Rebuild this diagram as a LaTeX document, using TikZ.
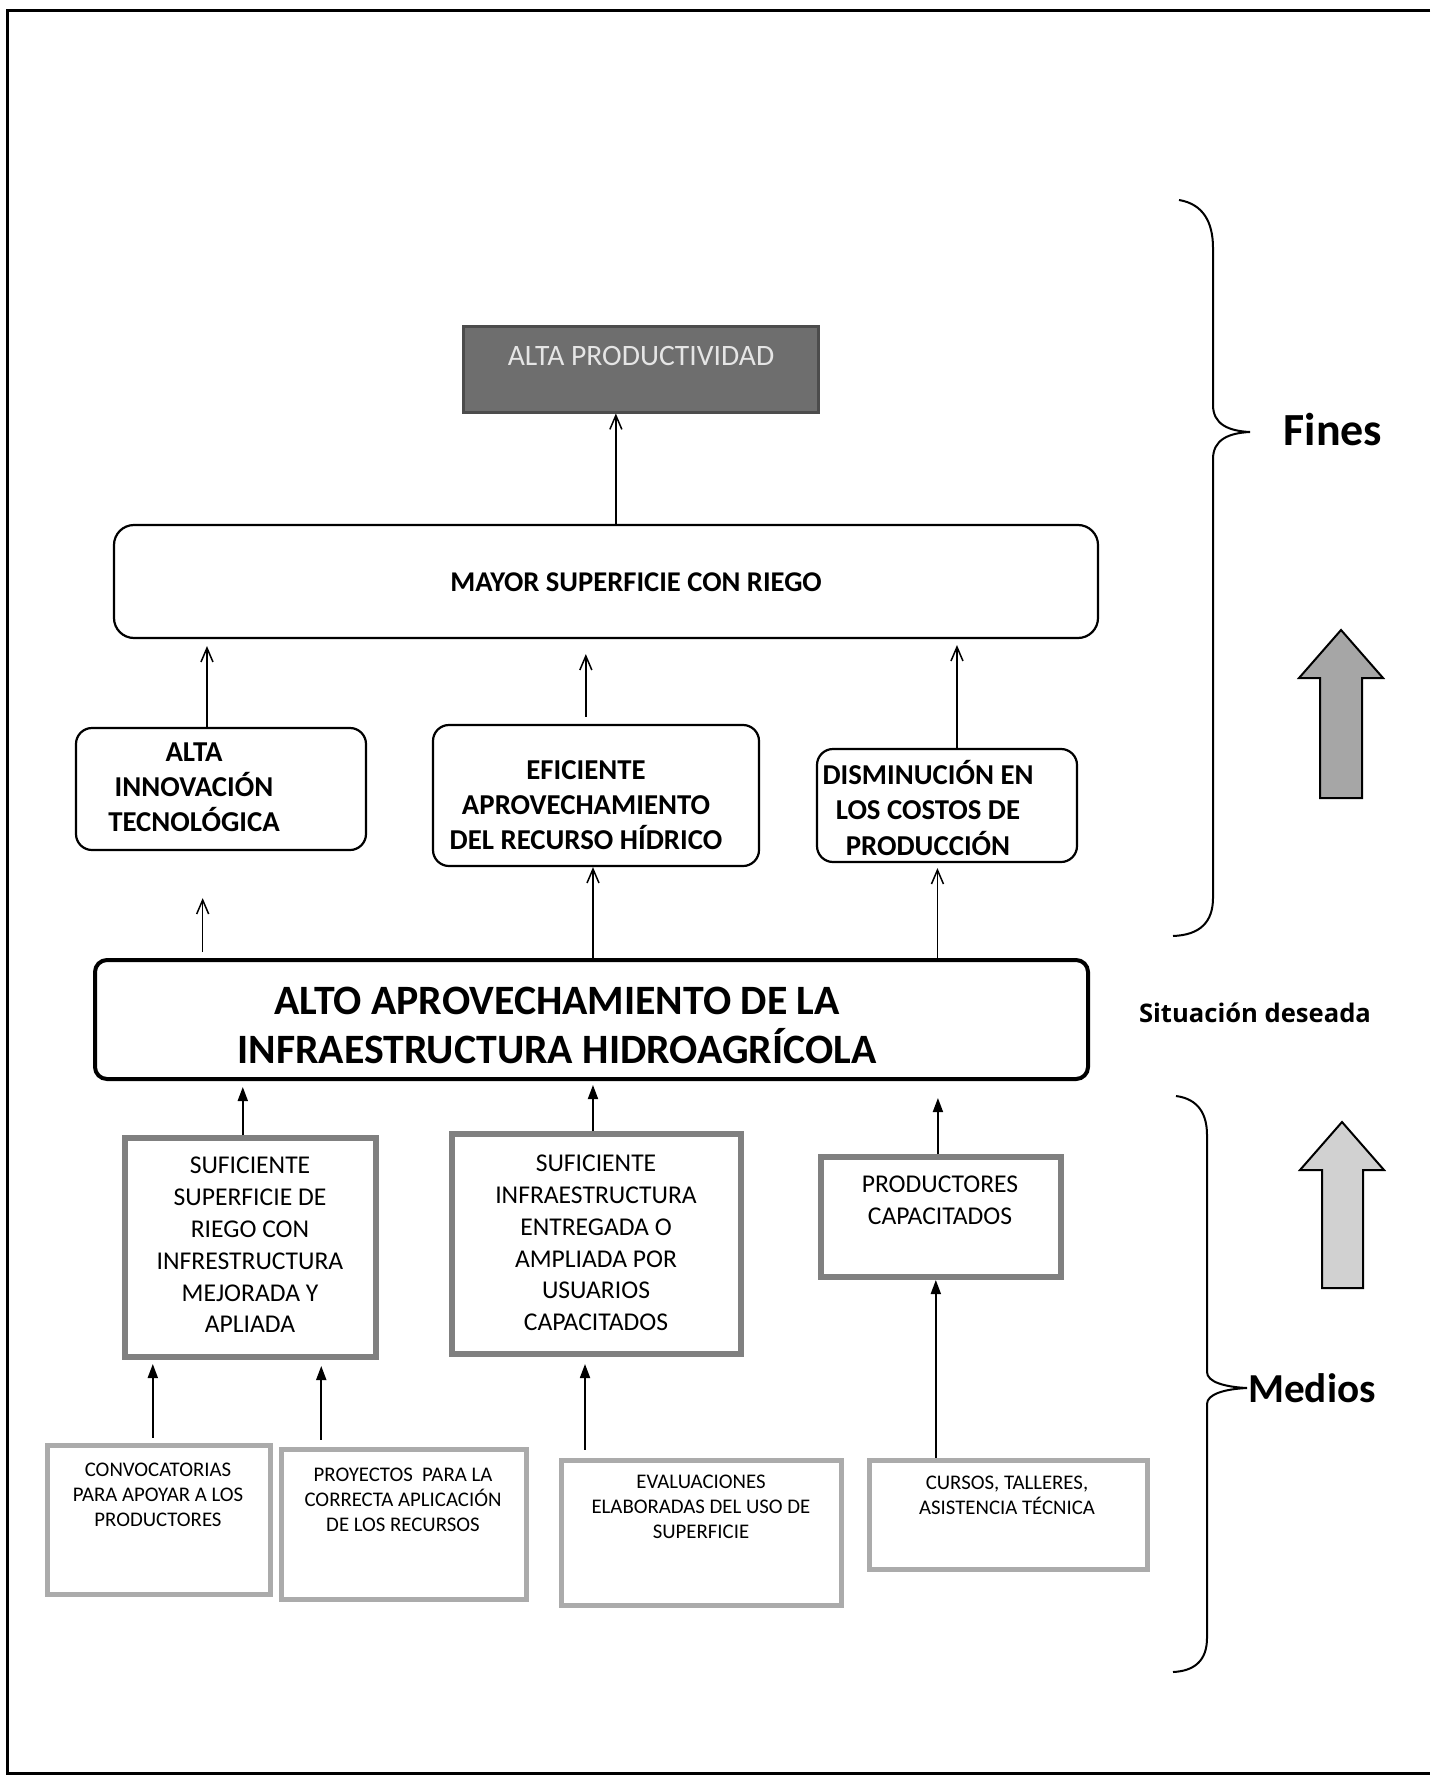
\documentclass[tikz,border=0pt]{standalone}
\usepackage{fontspec}
\setmainfont{Carlito}
\newfontfamily\situfont{Open Sans}
\usetikzlibrary{arrows.meta,fit,calc}
\begin{document}
\begin{tikzpicture}[x=0.5pt,y=-0.5pt,
  openarr/.style={draw, line width=0.75pt, -{Straight Barb[length=7pt,width=6pt,line width=0.75pt]}},
  fillarr/.style={draw, line width=0.9pt, -{Triangle[length=7pt,width=5pt]}},
  darkbox/.style={draw=black!70, fill=black!57, line width=1.5pt, inner sep=0pt},
  roundbox/.style={draw, rounded corners=8pt, line width=1.1pt, inner sep=0pt},
  altobox/.style={draw, rounded corners=6pt, line width=2pt, inner sep=0pt},
  medbox/.style={draw=black!50, line width=3pt, inner sep=0pt},
  basebox/.style={draw=black!33, line width=2.5pt, inner sep=0pt},
  txt/.style={align=center, inner sep=0pt},
  brace/.style={draw, line width=1pt},
  blockarr/.style={draw, line width=1pt}]
\useasboundingbox (0,0) rectangle (1430,1781);
% frame
\draw[line width=1.5pt] (1430,11) -- (7,11) -- (7,1773) -- (1430,1773);

% boxes
\node[darkbox, fit={(463,327) (818,412)}] (altaprod) {};
\node[roundbox, rounded corners=10pt, fit={(114,525) (1098,638)}] (mayor) {};
\node[roundbox, fit={(76,728) (366,850)}] (innov) {};
\node[roundbox, fit={(433,725) (759,866)}] (efic) {};
\node[roundbox, fit={(817,749) (1077,862)}] (dism) {};
\node[altobox, fit={(95,960) (1088,1079)}] (alto) {};
\node[medbox, fit={(125,1138) (376,1357)}] (sup) {};
\node[medbox, fit={(452,1134) (741,1354)}] (infra) {};
\node[medbox, fit={(821,1157) (1061,1277)}] (prod) {};
\node[basebox, fit={(47,1445) (270,1594)}] (conv) {};
\node[basebox, fit={(281,1449) (526,1599)}] (proy) {};
\node[basebox, fit={(561,1460) (841,1605)}] (eval) {};
\node[basebox, fit={(869,1460) (1147,1569)}] (cursos) {};

% texts
\node[txt, text=black!10, font=\fontsize{14.8}{18}\selectfont] (taltaprod) at (641,356) {ALTA PRODUCTIVIDAD};
\node[txt, font=\bfseries\fontsize{14.3}{17}\selectfont] (tmayor) at (636,582) {MAYOR SUPERFICIE CON RIEGO};
\node[txt, font=\bfseries\fontsize{14.4}{17.6}\selectfont] (tinnov) at (194,787) {ALTA\\INNOVACIÓN\\TECNOLÓGICA};
\node[txt, font=\bfseries\fontsize{14.4}{17.6}\selectfont] (tefic) at (586,805) {EFICIENTE\\APROVECHAMIENTO\\DEL RECURSO HÍDRICO};
\node[txt, font=\bfseries\fontsize{14.4}{17.6}\selectfont] (tdism) at (928,808) {DISMINUCIÓN EN\\LOS COSTOS DE\\PRODUCCIÓN};
\node[txt, font=\bfseries\fontsize{20.9}{24.5}\selectfont] (talto) at (557,1025) {ALTO APROVECHAMIENTO DE LA\\INFRAESTRUCTURA HIDROAGRÍCOLA};
\node[txt, font=\fontsize{12.8}{15.9}\selectfont] (tsup) at (250,1245) {SUFICIENTE\\SUPERFICIE DE\\RIEGO CON\\INFRESTRUCTURA\\MEJORADA Y\\APLIADA};
\node[txt, font=\fontsize{12.8}{15.9}\selectfont] (tinfra) at (596,1243) {SUFICIENTE\\INFRAESTRUCTURA\\ENTREGADA O\\AMPLIADA POR\\USUARIOS\\CAPACITADOS};
\node[txt, font=\fontsize{12.8}{15.9}\selectfont] (tprod) at (940,1200) {PRODUCTORES\\CAPACITADOS};
\node[txt, font=\fontsize{10.4}{12.5}\selectfont] (tconv) at (158,1495) {CONVOCATORIAS\\PARA APOYAR A LOS\\PRODUCTORES};
\node[txt, font=\fontsize{10.4}{12.5}\selectfont] (tproy) at (403,1500) {PROYECTOS\ \ PARA LA\\CORRECTA APLICACIÓN\\DE LOS RECURSOS};
\node[txt, font=\fontsize{10.4}{12.5}\selectfont] (teval) at (701,1507) {EVALUACIONES\\ELABORADAS DEL USO DE\\SUPERFICIE};
\node[txt, font=\fontsize{10.4}{12.5}\selectfont] (tcursos) at (1007,1495) {CURSOS, TALLERES,\\ASISTENCIA TÉCNICA};
\node[txt, font=\situfont\bfseries\fontsize{12.8}{15}\selectfont] (tsitu) at (1255,1013) {Situación deseada};
\node[txt, font=\bfseries\fontsize{23}{27}\selectfont] (tfines) at (1333,430) {Fines};
\node[txt, font=\bfseries\fontsize{20.6}{25}\selectfont] (tmedios) at (1312,1388) {Medios};

% connectors (fines part)
\coordinate (a0) at ($(mayor.north west)!0.510!(mayor.north east)$);
\draw[openarr] (a0) -- (a0 |- altaprod.south);
\coordinate (a1) at ($(innov.north west)!0.452!(innov.north east)$);
\draw[openarr, shorten >=3.5pt] (a1) -- (a1 |- mayor.south);
\coordinate (a2) at ($(efic.north west)!0.469!(efic.north east)$);
\draw[openarr, shorten <=3.5pt, shorten >=7.5pt] (a2) -- (a2 |- mayor.south);
\coordinate (a3) at ($(dism.north west)!0.538!(dism.north east)$);
\draw[openarr, shorten >=3pt] (a3) -- (a3 |- mayor.south);
\coordinate (a4) at ($(alto.north west)!0.110!(alto.north east)$);
\draw[openarr, shorten <=3pt, shorten >=23.5pt] (a4) -- (a4 |- innov.south);
\coordinate (a5) at ($(alto.north west)!0.5015!(alto.north east)$);
\draw[openarr] (a5) -- (a5 |- efic.south);
\coordinate (a6) at ($(alto.north west)!0.847!(alto.north east)$);
\draw[openarr, shorten >=2.5pt] (a6) -- (a6 |- dism.south);

% connectors (medios part)
\coordinate (a7) at ($(sup.north west)!0.470!(sup.north east)$);
\draw[fillarr, shorten >=3pt] (a7) -- (a7 |- alto.south);
\coordinate (a8) at ($(infra.north west)!0.488!(infra.north east)$);
\draw[fillarr, shorten >=2pt] (a8) -- (a8 |- alto.south);
\coordinate (a9) at ($(prod.north west)!0.4875!(prod.north east)$);
\draw[fillarr, shorten >=8.5pt] (a9) -- (a9 |- alto.south);
\coordinate (a10) at ($(conv.north west)!0.475!(conv.north east)$);
\draw[fillarr, shorten <=2.5pt, shorten >=2pt] (a10) -- (a10 |- sup.south);
\coordinate (a11) at ($(proy.north west)!0.171!(proy.north east)$);
\draw[fillarr, shorten <=3.5pt, shorten >=3pt] (a11) -- (a11 |- sup.south);
\coordinate (a12) at ($(eval.north west)!0.093!(eval.north east)$);
\draw[fillarr, shorten <=4pt, shorten >=3.5pt] (a12) -- (a12 |- infra.south);
\coordinate (a13) at ($(cursos.north west)!0.245!(cursos.north east)$);
\draw[fillarr] (a13) -- (a13 |- prod.south);

% braces
\draw[brace] (1179,200) .. controls (1203,204) and (1213,222) .. (1213,248) -- (1213,405)
  .. controls (1213,424) and (1228,431) .. (1250,432)
  .. controls (1228,433) and (1213,440) .. (1213,459) -- (1213,898)
  .. controls (1213,922) and (1200,935) .. (1173,936);
\draw[brace] (1176,1096) .. controls (1199,1099) and (1207,1115) .. (1207,1135) -- (1207,1372)
  .. controls (1207,1382) and (1225,1387) .. (1247,1388)
  .. controls (1225,1389) and (1207,1394) .. (1207,1404) -- (1207,1638)
  .. controls (1207,1660) and (1195,1671) .. (1173,1672);

% block arrows
\draw[blockarr, fill=black!35] (1341,630) -- (1383,678) -- (1362,678) -- (1362,798) -- (1320,798) -- (1320,678) -- (1299,678) -- cycle;
\draw[blockarr, fill=black!18] (1342,1122) -- (1384,1170) -- (1363,1170) -- (1363,1288) -- (1322,1288) -- (1322,1170) -- (1300,1170) -- cycle;
\end{tikzpicture}
\end{document}
